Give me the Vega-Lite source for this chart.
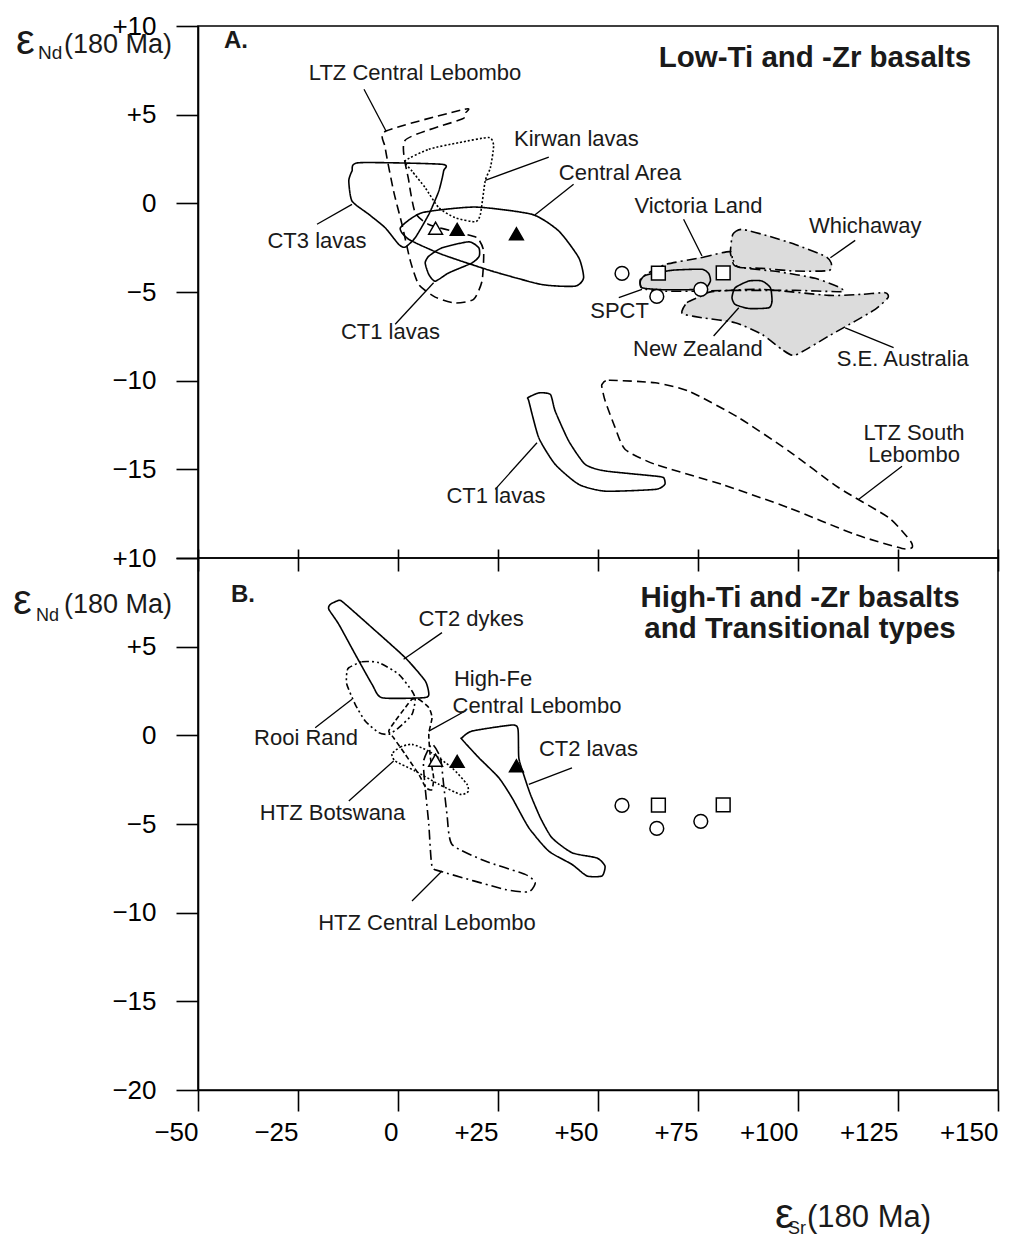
{
"$schema":"https://vega.github.io/schema/vega-lite/v6.json",
"background":"white",
"padding":{"left":12,"top":12,"right":0,"bottom":0},
"spacing":0,
"bounds":"flush",
"config":{"font":"Liberation Sans","view":{"stroke":"black","strokeWidth":1.6},"axis":{"grid":false,"domainColor":"black","tickColor":"black","labelColor":"black","labelFont":"Liberation Sans","labelFontSize":26,"domainWidth":1.6,"tickWidth":1.6}},
"datasets":{
"shapes":[
{"p":"A","n":"LTZ Central Lebombo","i":0,"x":-3,"y":4.08},{"p":"A","n":"LTZ Central Lebombo","i":1,"x":16.7,"y":5.31},{"p":"A","n":"LTZ Central Lebombo","i":2,"x":17,"y":5.12},{"p":"A","n":"LTZ Central Lebombo","i":3,"x":16,"y":4.75},{"p":"A","n":"LTZ Central Lebombo","i":4,"x":1.8,"y":3.56},{"p":"A","n":"LTZ Central Lebombo","i":5,"x":2.7,"y":1.26},{"p":"A","n":"LTZ Central Lebombo","i":6,"x":4.3,"y":-0.53},{"p":"A","n":"LTZ Central Lebombo","i":7,"x":7.7,"y":-1.19},{"p":"A","n":"LTZ Central Lebombo","i":8,"x":15.2,"y":-1.66},{"p":"A","n":"LTZ Central Lebombo","i":9,"x":19.75,"y":-1.94},{"p":"A","n":"LTZ Central Lebombo","i":10,"x":21.4,"y":-2.69},{"p":"A","n":"LTZ Central Lebombo","i":11,"x":21,"y":-4.39},{"p":"A","n":"LTZ Central Lebombo","i":12,"x":18.9,"y":-5.42},{"p":"A","n":"LTZ Central Lebombo","i":13,"x":14.3,"y":-5.62},{"p":"A","n":"LTZ Central Lebombo","i":14,"x":9.3,"y":-5.29},{"p":"A","n":"LTZ Central Lebombo","i":15,"x":5.2,"y":-4.58},{"p":"A","n":"LTZ Central Lebombo","i":16,"x":3.1,"y":-3.26},{"p":"A","n":"LTZ Central Lebombo","i":17,"x":1,"y":-1.19},{"p":"A","n":"LTZ Central Lebombo","i":18,"x":-1.1,"y":0.69},{"p":"A","n":"LTZ Central Lebombo","i":19,"x":-3.2,"y":3.14},
{"p":"A","n":"Kirwan lavas","i":0,"x":1.8,"y":2.39},{"p":"A","n":"Kirwan lavas","i":1,"x":7.7,"y":3.05},{"p":"A","n":"Kirwan lavas","i":2,"x":15.2,"y":3.42},{"p":"A","n":"Kirwan lavas","i":3,"x":22.7,"y":3.71},{"p":"A","n":"Kirwan lavas","i":4,"x":23.9,"y":3.24},{"p":"A","n":"Kirwan lavas","i":5,"x":23.1,"y":2.01},{"p":"A","n":"Kirwan lavas","i":6,"x":21.8,"y":1.26},{"p":"A","n":"Kirwan lavas","i":7,"x":20.6,"y":-0.62},{"p":"A","n":"Kirwan lavas","i":8,"x":19.3,"y":-1.04},{"p":"A","n":"Kirwan lavas","i":9,"x":14.3,"y":-0.81},{"p":"A","n":"Kirwan lavas","i":10,"x":10.2,"y":-0.25},{"p":"A","n":"Kirwan lavas","i":11,"x":6.8,"y":0.88},{"p":"A","n":"Kirwan lavas","i":12,"x":3.5,"y":1.82},
{"p":"A","n":"CT3 lavas","i":0,"x":-9.8,"y":2.29},{"p":"A","n":"CT3 lavas","i":1,"x":11,"y":2.2},{"p":"A","n":"CT3 lavas","i":2,"x":11.4,"y":1.82},{"p":"A","n":"CT3 lavas","i":3,"x":10.2,"y":0.69},{"p":"A","n":"CT3 lavas","i":4,"x":7.7,"y":-0.62},{"p":"A","n":"CT3 lavas","i":5,"x":4.3,"y":-1.94},{"p":"A","n":"CT3 lavas","i":6,"x":1.8,"y":-2.47},{"p":"A","n":"CT3 lavas","i":7,"x":0.2,"y":-2.32},{"p":"A","n":"CT3 lavas","i":8,"x":-3.2,"y":-1.38},{"p":"A","n":"CT3 lavas","i":9,"x":-7.3,"y":-0.62},{"p":"A","n":"CT3 lavas","i":10,"x":-11.5,"y":0.13},{"p":"A","n":"CT3 lavas","i":11,"x":-12.3,"y":1.26},{"p":"A","n":"CT3 lavas","i":12,"x":-11.5,"y":1.82},
{"p":"A","n":"Central Area","i":0,"x":0.6,"y":-1.38},{"p":"A","n":"Central Area","i":1,"x":6,"y":-0.53},{"p":"A","n":"Central Area","i":2,"x":19.3,"y":-0.21},{"p":"A","n":"Central Area","i":3,"x":33.5,"y":-0.62},{"p":"A","n":"Central Area","i":4,"x":40.2,"y":-1.56},{"p":"A","n":"Central Area","i":5,"x":45.2,"y":-3.07},{"p":"A","n":"Central Area","i":6,"x":46.4,"y":-4.2},{"p":"A","n":"Central Area","i":7,"x":44.3,"y":-4.67},{"p":"A","n":"Central Area","i":8,"x":36,"y":-4.58},{"p":"A","n":"Central Area","i":9,"x":23.5,"y":-3.82},{"p":"A","n":"Central Area","i":10,"x":11,"y":-2.88},{"p":"A","n":"Central Area","i":11,"x":2.7,"y":-2.03},
{"p":"A","n":"CT1 lavas small","i":0,"x":7.7,"y":-2.98},{"p":"A","n":"CT1 lavas small","i":1,"x":11,"y":-2.51},{"p":"A","n":"CT1 lavas small","i":2,"x":17.7,"y":-2.17},{"p":"A","n":"CT1 lavas small","i":3,"x":20.2,"y":-2.51},{"p":"A","n":"CT1 lavas small","i":4,"x":20.3,"y":-2.98},{"p":"A","n":"CT1 lavas small","i":5,"x":18.5,"y":-3.36},{"p":"A","n":"CT1 lavas small","i":6,"x":12.7,"y":-3.92},{"p":"A","n":"CT1 lavas small","i":7,"x":9.3,"y":-4.39},{"p":"A","n":"CT1 lavas small","i":8,"x":7.7,"y":-4.01},{"p":"A","n":"CT1 lavas small","i":9,"x":6.8,"y":-3.36},
{"p":"A","n":"Whichaway","i":0,"x":83.1,"y":-2.79},{"p":"A","n":"Whichaway","i":1,"x":83.7,"y":-1.75},{"p":"A","n":"Whichaway","i":2,"x":86,"y":-1.47},{"p":"A","n":"Whichaway","i":3,"x":92.7,"y":-1.85},{"p":"A","n":"Whichaway","i":4,"x":99.3,"y":-2.32},{"p":"A","n":"Whichaway","i":5,"x":106.8,"y":-2.98},{"p":"A","n":"Whichaway","i":6,"x":108.3,"y":-3.36},{"p":"A","n":"Whichaway","i":7,"x":107.7,"y":-3.79},{"p":"A","n":"Whichaway","i":8,"x":99.3,"y":-3.82},{"p":"A","n":"Whichaway","i":9,"x":91,"y":-3.67},{"p":"A","n":"Whichaway","i":10,"x":85.2,"y":-3.6},{"p":"A","n":"Whichaway","i":11,"x":83.9,"y":-3.26},
{"p":"A","n":"Victoria Land","i":0,"x":66.8,"y":-3.45},{"p":"A","n":"Victoria Land","i":1,"x":76,"y":-3.05},{"p":"A","n":"Victoria Land","i":2,"x":83.1,"y":-2.73},{"p":"A","n":"Victoria Land","i":3,"x":84.3,"y":-3.54},{"p":"A","n":"Victoria Land","i":4,"x":95.2,"y":-3.86},{"p":"A","n":"Victoria Land","i":5,"x":104.3,"y":-4.23},{"p":"A","n":"Victoria Land","i":6,"x":110.2,"y":-4.72},{"p":"A","n":"Victoria Land","i":7,"x":111,"y":-4.98},{"p":"A","n":"Victoria Land","i":8,"x":99.3,"y":-4.91},{"p":"A","n":"Victoria Land","i":9,"x":82.7,"y":-4.91},{"p":"A","n":"Victoria Land","i":10,"x":76,"y":-4.95},{"p":"A","n":"Victoria Land","i":11,"x":66,"y":-4.95},{"p":"A","n":"Victoria Land","i":12,"x":61,"y":-4.79},{"p":"A","n":"Victoria Land","i":13,"x":60.6,"y":-4.29},{"p":"A","n":"Victoria Land","i":14,"x":62.7,"y":-3.92},
{"p":"A","n":"S.E. Australia","i":0,"x":71,"y":-6.07},{"p":"A","n":"S.E. Australia","i":1,"x":72.25,"y":-5.6},{"p":"A","n":"S.E. Australia","i":2,"x":76,"y":-5.22},{"p":"A","n":"S.E. Australia","i":3,"x":78.5,"y":-4.98},{"p":"A","n":"S.E. Australia","i":4,"x":91,"y":-4.85},{"p":"A","n":"S.E. Australia","i":5,"x":107.7,"y":-5.19},{"p":"A","n":"S.E. Australia","i":6,"x":116,"y":-5.13},{"p":"A","n":"S.E. Australia","i":7,"x":121.8,"y":-5.04},{"p":"A","n":"S.E. Australia","i":8,"x":122.5,"y":-5.32},{"p":"A","n":"S.E. Australia","i":9,"x":119.3,"y":-5.98},{"p":"A","n":"S.E. Australia","i":10,"x":114.3,"y":-6.64},{"p":"A","n":"S.E. Australia","i":11,"x":107.7,"y":-7.48},{"p":"A","n":"S.E. Australia","i":12,"x":99.3,"y":-8.56},{"p":"A","n":"S.E. Australia","i":13,"x":96,"y":-8.24},{"p":"A","n":"S.E. Australia","i":14,"x":91,"y":-7.39},{"p":"A","n":"S.E. Australia","i":15,"x":84.3,"y":-6.73},{"p":"A","n":"S.E. Australia","i":16,"x":76,"y":-6.45},{"p":"A","n":"S.E. Australia","i":17,"x":71.4,"y":-6.26},
{"p":"A","n":"SPCT","i":0,"x":61,"y":-4.76},{"p":"A","n":"SPCT","i":1,"x":60.6,"y":-4.38},{"p":"A","n":"SPCT","i":2,"x":61.8,"y":-4.06},{"p":"A","n":"SPCT","i":3,"x":66,"y":-3.86},{"p":"A","n":"SPCT","i":4,"x":69.3,"y":-3.76},{"p":"A","n":"SPCT","i":5,"x":76,"y":-3.72},{"p":"A","n":"SPCT","i":6,"x":77.7,"y":-3.97},{"p":"A","n":"SPCT","i":7,"x":78.1,"y":-4.38},{"p":"A","n":"SPCT","i":8,"x":76.8,"y":-4.79},{"p":"A","n":"SPCT","i":9,"x":72.7,"y":-4.87},{"p":"A","n":"SPCT","i":10,"x":66,"y":-4.87},
{"p":"A","n":"New Zealand","i":0,"x":83.5,"y":-5.32},{"p":"A","n":"New Zealand","i":1,"x":84.3,"y":-4.76},{"p":"A","n":"New Zealand","i":2,"x":87.7,"y":-4.38},{"p":"A","n":"New Zealand","i":3,"x":91,"y":-4.38},{"p":"A","n":"New Zealand","i":4,"x":93.1,"y":-4.76},{"p":"A","n":"New Zealand","i":5,"x":93.5,"y":-5.51},{"p":"A","n":"New Zealand","i":6,"x":92.7,"y":-5.89},{"p":"A","n":"New Zealand","i":7,"x":87.7,"y":-5.93},{"p":"A","n":"New Zealand","i":8,"x":84.3,"y":-5.7},
{"p":"A","n":"CT1 lavas curved","i":0,"x":32.7,"y":-11.15},{"p":"A","n":"CT1 lavas curved","i":1,"x":35.2,"y":-13.22},{"p":"A","n":"CT1 lavas curved","i":2,"x":39.3,"y":-14.72},{"p":"A","n":"CT1 lavas curved","i":3,"x":45.2,"y":-15.85},{"p":"A","n":"CT1 lavas curved","i":4,"x":51.8,"y":-16.23},{"p":"A","n":"CT1 lavas curved","i":5,"x":64.3,"y":-16.13},{"p":"A","n":"CT1 lavas curved","i":6,"x":66.7,"y":-15.85},{"p":"A","n":"CT1 lavas curved","i":7,"x":66.4,"y":-15.47},{"p":"A","n":"CT1 lavas curved","i":8,"x":64.3,"y":-15.38},{"p":"A","n":"CT1 lavas curved","i":9,"x":51.8,"y":-15.09},{"p":"A","n":"CT1 lavas curved","i":10,"x":46.8,"y":-14.72},{"p":"A","n":"CT1 lavas curved","i":11,"x":42.7,"y":-13.41},{"p":"A","n":"CT1 lavas curved","i":12,"x":39.3,"y":-11.72},{"p":"A","n":"CT1 lavas curved","i":13,"x":38.1,"y":-10.78},{"p":"A","n":"CT1 lavas curved","i":14,"x":35.2,"y":-10.69},{"p":"A","n":"CT1 lavas curved","i":15,"x":32.5,"y":-10.96},
{"p":"A","n":"LTZ South Lebombo","i":0,"x":51,"y":-10.21},{"p":"A","n":"LTZ South Lebombo","i":1,"x":52.7,"y":-9.98},{"p":"A","n":"LTZ South Lebombo","i":2,"x":64.3,"y":-10.12},{"p":"A","n":"LTZ South Lebombo","i":3,"x":72.7,"y":-10.59},{"p":"A","n":"LTZ South Lebombo","i":4,"x":85.2,"y":-12.09},{"p":"A","n":"LTZ South Lebombo","i":5,"x":97.7,"y":-13.97},{"p":"A","n":"LTZ South Lebombo","i":6,"x":110.2,"y":-16.04},{"p":"A","n":"LTZ South Lebombo","i":7,"x":122.7,"y":-17.73},{"p":"A","n":"LTZ South Lebombo","i":8,"x":128.1,"y":-19.04},{"p":"A","n":"LTZ South Lebombo","i":9,"x":128.5,"y":-19.42},{"p":"A","n":"LTZ South Lebombo","i":10,"x":126,"y":-19.46},{"p":"A","n":"LTZ South Lebombo","i":11,"x":114.3,"y":-18.67},{"p":"A","n":"LTZ South Lebombo","i":12,"x":97.7,"y":-17.17},{"p":"A","n":"LTZ South Lebombo","i":13,"x":81,"y":-15.85},{"p":"A","n":"LTZ South Lebombo","i":14,"x":64.3,"y":-14.72},{"p":"A","n":"LTZ South Lebombo","i":15,"x":56.8,"y":-13.88},{"p":"A","n":"LTZ South Lebombo","i":16,"x":54.3,"y":-12.66},{"p":"A","n":"LTZ South Lebombo","i":17,"x":51.8,"y":-11.15},{"p":"A","n":"LTZ South Lebombo","i":18,"x":51,"y":-10.4},
{"p":"B","n":"CT2 dykes","i":0,"x":-16.9,"y":7.39},{"p":"B","n":"CT2 dykes","i":1,"x":-14.8,"y":7.61},{"p":"B","n":"CT2 dykes","i":2,"x":-13.6,"y":7.48},{"p":"B","n":"CT2 dykes","i":3,"x":-6.5,"y":6.07},{"p":"B","n":"CT2 dykes","i":4,"x":1.8,"y":4.38},{"p":"B","n":"CT2 dykes","i":5,"x":6.8,"y":3.07},{"p":"B","n":"CT2 dykes","i":6,"x":7.7,"y":2.31},{"p":"B","n":"CT2 dykes","i":7,"x":6.4,"y":2.12},{"p":"B","n":"CT2 dykes","i":8,"x":-4,"y":2.12},{"p":"B","n":"CT2 dykes","i":9,"x":-6.5,"y":2.88},{"p":"B","n":"CT2 dykes","i":10,"x":-10.7,"y":4.57},{"p":"B","n":"CT2 dykes","i":11,"x":-14.8,"y":6.26},{"p":"B","n":"CT2 dykes","i":12,"x":-17.3,"y":7.11},
{"p":"B","n":"Rooi Rand","i":0,"x":-12.3,"y":3.81},{"p":"B","n":"Rooi Rand","i":1,"x":-9,"y":4.15},{"p":"B","n":"Rooi Rand","i":2,"x":-4.8,"y":4.1},{"p":"B","n":"Rooi Rand","i":3,"x":0.2,"y":3.44},{"p":"B","n":"Rooi Rand","i":4,"x":3.5,"y":2.5},{"p":"B","n":"Rooi Rand","i":5,"x":4.3,"y":2.03},{"p":"B","n":"Rooi Rand","i":6,"x":3.5,"y":1.18},{"p":"B","n":"Rooi Rand","i":7,"x":0.2,"y":0.43},{"p":"B","n":"Rooi Rand","i":8,"x":-2.3,"y":0.06},{"p":"B","n":"Rooi Rand","i":9,"x":-4.8,"y":0.15},{"p":"B","n":"Rooi Rand","i":10,"x":-8.2,"y":0.81},{"p":"B","n":"Rooi Rand","i":11,"x":-10.7,"y":1.75},{"p":"B","n":"Rooi Rand","i":12,"x":-12.8,"y":2.88},{"p":"B","n":"Rooi Rand","i":13,"x":-12.8,"y":3.53},
{"p":"B","n":"High-Fe Central Lebombo","i":0,"x":3.5,"y":2.03},{"p":"B","n":"High-Fe Central Lebombo","i":1,"x":5.2,"y":2.03},{"p":"B","n":"High-Fe Central Lebombo","i":2,"x":7.7,"y":1.56},{"p":"B","n":"High-Fe Central Lebombo","i":3,"x":8.5,"y":0.99},{"p":"B","n":"High-Fe Central Lebombo","i":4,"x":7.7,"y":0.06},{"p":"B","n":"High-Fe Central Lebombo","i":5,"x":8.1,"y":-1.26},{"p":"B","n":"High-Fe Central Lebombo","i":6,"x":8.9,"y":-2.39},{"p":"B","n":"High-Fe Central Lebombo","i":7,"x":8.5,"y":-3.05},{"p":"B","n":"High-Fe Central Lebombo","i":8,"x":7,"y":-2.96},{"p":"B","n":"High-Fe Central Lebombo","i":9,"x":5.2,"y":-2.2},{"p":"B","n":"High-Fe Central Lebombo","i":10,"x":1.8,"y":-1.07},{"p":"B","n":"High-Fe Central Lebombo","i":11,"x":-1.1,"y":-0.14},{"p":"B","n":"High-Fe Central Lebombo","i":12,"x":-2.3,"y":0.24},{"p":"B","n":"High-Fe Central Lebombo","i":13,"x":-0.7,"y":0.81},{"p":"B","n":"High-Fe Central Lebombo","i":14,"x":1.8,"y":1.56},
{"p":"B","n":"HTZ Botswana","i":0,"x":-1.5,"y":-1.04},{"p":"B","n":"HTZ Botswana","i":1,"x":0.6,"y":-0.66},{"p":"B","n":"HTZ Botswana","i":2,"x":3.5,"y":-0.51},{"p":"B","n":"HTZ Botswana","i":3,"x":7.7,"y":-0.89},{"p":"B","n":"HTZ Botswana","i":4,"x":13.5,"y":-1.83},{"p":"B","n":"HTZ Botswana","i":5,"x":17.25,"y":-2.76},{"p":"B","n":"HTZ Botswana","i":6,"x":17.5,"y":-3.18},{"p":"B","n":"HTZ Botswana","i":7,"x":15.6,"y":-3.33},{"p":"B","n":"HTZ Botswana","i":8,"x":10.2,"y":-2.76},{"p":"B","n":"HTZ Botswana","i":9,"x":4.3,"y":-2.01},{"p":"B","n":"HTZ Botswana","i":10,"x":-0.7,"y":-1.45},
{"p":"B","n":"HTZ Central Lebombo","i":0,"x":8.5,"y":-0.5},{"p":"B","n":"HTZ Central Lebombo","i":1,"x":10.6,"y":-1.26},{"p":"B","n":"HTZ Central Lebombo","i":2,"x":11.4,"y":-2.76},{"p":"B","n":"HTZ Central Lebombo","i":3,"x":12.25,"y":-4.46},{"p":"B","n":"HTZ Central Lebombo","i":4,"x":13.5,"y":-6.15},{"p":"B","n":"HTZ Central Lebombo","i":5,"x":21.8,"y":-7.09},{"p":"B","n":"HTZ Central Lebombo","i":6,"x":31.8,"y":-7.84},{"p":"B","n":"HTZ Central Lebombo","i":7,"x":34.3,"y":-8.31},{"p":"B","n":"HTZ Central Lebombo","i":8,"x":32.7,"y":-8.82},{"p":"B","n":"HTZ Central Lebombo","i":9,"x":26.8,"y":-8.69},{"p":"B","n":"HTZ Central Lebombo","i":10,"x":11,"y":-7.69},{"p":"B","n":"HTZ Central Lebombo","i":11,"x":8.5,"y":-7.37},{"p":"B","n":"HTZ Central Lebombo","i":12,"x":7.7,"y":-5.02},{"p":"B","n":"HTZ Central Lebombo","i":13,"x":6.8,"y":-2.96},{"p":"B","n":"HTZ Central Lebombo","i":14,"x":6.4,"y":-1.45},
{"p":"B","n":"CT2 lavas","i":0,"x":16,"y":-0.14},{"p":"B","n":"CT2 lavas","i":1,"x":18.5,"y":0.24},{"p":"B","n":"CT2 lavas","i":2,"x":28.5,"y":0.58},{"p":"B","n":"CT2 lavas","i":3,"x":30,"y":0.34},{"p":"B","n":"CT2 lavas","i":4,"x":30.2,"y":-1.26},{"p":"B","n":"CT2 lavas","i":5,"x":31.4,"y":-2.2},{"p":"B","n":"CT2 lavas","i":6,"x":33.1,"y":-3.33},{"p":"B","n":"CT2 lavas","i":7,"x":35.6,"y":-4.65},{"p":"B","n":"CT2 lavas","i":8,"x":38.5,"y":-5.78},{"p":"B","n":"CT2 lavas","i":9,"x":43.5,"y":-6.62},{"p":"B","n":"CT2 lavas","i":10,"x":49.75,"y":-6.92},{"p":"B","n":"CT2 lavas","i":11,"x":51.75,"y":-7.37},{"p":"B","n":"CT2 lavas","i":12,"x":51,"y":-7.93},{"p":"B","n":"CT2 lavas","i":13,"x":47.25,"y":-7.93},{"p":"B","n":"CT2 lavas","i":14,"x":43.5,"y":-7.28},{"p":"B","n":"CT2 lavas","i":15,"x":37.7,"y":-6.53},{"p":"B","n":"CT2 lavas","i":16,"x":32.7,"y":-5.21},{"p":"B","n":"CT2 lavas","i":17,"x":28.5,"y":-3.52},{"p":"B","n":"CT2 lavas","i":18,"x":25.2,"y":-2.39},{"p":"B","n":"CT2 lavas","i":19,"x":20.2,"y":-1.26},{"p":"B","n":"CT2 lavas","i":20,"x":16,"y":-0.23}
],
"pts":[
{"k":"open triangle","x":9.4,"y":-1.4},{"k":"filled triangle","x":14.8,"y":-1.47},{"k":"filled triangle","x":29.6,"y":-1.72},
{"k":"circle","x":56,"y":-3.95},{"k":"square","x":65.1,"y":-3.93},{"k":"circle","x":64.7,"y":-5.25},{"k":"circle","x":75.7,"y":-4.85},{"k":"square","x":81.3,"y":-3.92}
],
"labels":[
{"p":"A","t":"LTZ Central Lebombo","x":4.25,"y":7.35},{"p":"A","t":"Kirwan lavas","x":44.6,"y":3.63},{"p":"A","t":"Central Area","x":55.5,"y":1.73},{"p":"A","t":"CT3 lavas","x":-20.25,"y":-2.13},{"p":"A","t":"CT1 lavas","x":-1.9,"y":-7.26},{"p":"A","t":"Victoria Land","x":75.1,"y":-0.15},{"p":"A","t":"Whichaway","x":116.8,"y":-1.28},{"p":"A","t":"SPCT","x":55.4,"y":-6.08},{"p":"A","t":"New Zealand","x":74.95,"y":-8.23},{"p":"A","t":"S.E. Australia","x":126.2,"y":-8.8},{"p":"A","t":"CT1 lavas","x":24.5,"y":-16.51},{"p":"A","t":"LTZ South","x":129,"y":-12.96},{"p":"A","t":"Lebombo","x":129,"y":-14.2},
{"p":"B","t":"CT2 dykes","x":18.3,"y":6.54},{"p":"B","t":"High-Fe","x":23.75,"y":3.16},{"p":"B","t":"Central Lebombo","x":34.75,"y":1.65},{"p":"B","t":"Rooi Rand","x":-23,"y":-0.14},{"p":"B","t":"HTZ Botswana","x":-16.35,"y":-4.37},{"p":"B","t":"HTZ Central Lebombo","x":7.25,"y":-10.59},{"p":"B","t":"CT2 lavas","x":47.6,"y":-0.77}
],
"heads":[
{"p":"A","t":"Low-Ti and -Zr basalts","x":104.25,"y":8.2},{"p":"B","t":"High-Ti and -Zr basalts","x":100.5,"y":7.76},{"p":"B","t":"and Transitional types","x":100.5,"y":6.0}
],
"letters":[{"p":"A","t":"A.","x":-40.5,"y":9.15},{"p":"B","t":"B.","x":-38.75,"y":7.91}],
"leaders":[
{"p":"A","x":-8.5,"y":6.43,"x2":-3,"y2":4.08},{"p":"A","x":21.8,"y":1.3,"x2":37.7,"y2":2.61},{"p":"A","x":34.2,"y":-0.66,"x2":43.9,"y2":1.07},{"p":"A","x":-20.25,"y":-1.18,"x2":-11.5,"y2":-0.06},{"p":"A","x":8.9,"y":-4.48,"x2":-0.7,"y2":-6.82},{"p":"A","x":71.4,"y":-0.9,"x2":76,"y2":-2.97},{"p":"A","x":114.3,"y":-2.09,"x2":108.1,"y2":-3.07},{"p":"A","x":55.2,"y":-5.32,"x2":61,"y2":-4.85},{"p":"A","x":78.9,"y":-7.48,"x2":85.2,"y2":-5.89},{"p":"A","x":123.9,"y":-8.14,"x2":111.8,"y2":-7.02},{"p":"A","x":24.3,"y":-16.13,"x2":34.75,"y2":-13.5},{"p":"A","x":126,"y":-14.82,"x2":115.2,"y2":-16.69},
{"p":"B","x":1.4,"y":4.29,"x2":11,"y2":5.79},{"p":"B","x":7.7,"y":0.24,"x2":16.8,"y2":1.37},{"p":"B","x":-11.5,"y":2.03,"x2":-20.7,"y2":0.43},{"p":"B","x":-1.1,"y":-1.45,"x2":-12.3,"y2":-3.7},{"p":"B","x":11,"y":-7.65,"x2":3.5,"y2":-9.34},{"p":"B","x":32.7,"y":-2.76,"x2":43.5,"y2":-1.83}
],
"eps":[{"p":"A","t":"ε","x":-95.5,"y":8.42},{"p":"B","t":"ε","x":-96.25,"y":6.84},{"p":"B","t":"ε","x":94.25,"y":-27.79}],
"subs":[{"p":"A","t":"Nd","x":-90,"y":8.14},{"p":"B","t":"Nd","x":-90.5,"y":6.45},{"p":"B","t":"Sr","x":97.5,"y":-28.1}],
"units":[{"p":"A","t":"(180 Ma)","x":-83.5,"y":8.45},{"p":"B","t":"(180 Ma)","x":-83.5,"y":6.9}],
"xunit":[{"t":"(180 Ma)","x":102.25,"y":-27.73}]
},
"vconcat":[
{
"width":800,"height":532,
"encoding":{
"x":{"field":"x","type":"quantitative","scale":{"domain":[-50,150],"nice":false,"zero":false},"axis":{"orient":"bottom","values":[-50,-25,0,25,50,75,100,125,150],"labels":false,"domain":false,"tickSize":22,"offset":-9,"title":null}},
"y":{"field":"y","type":"quantitative","scale":{"domain":[-20,10],"nice":false,"zero":false},"axis":{"values":[10,5,0,-5,-10,-15,-20],"tickSize":22,"labelPadding":20,"labelFlush":false,"labelOverlap":false,"title":null,"labelExpr":"datum.value == -20 ? '' : (datum.value > 0 ? '+' + datum.value : (datum.value < 0 ? '−' + (-datum.value) : '0'))"}}
},
"layer":[
{"data":{"name":"shapes"},"transform":[{"filter":"datum.p == 'A'"},{"filter":{"field":"n","oneOf":["Whichaway","Victoria Land","S.E. Australia","SPCT"]}}],"mark":{"type":"line","interpolate":"cardinal-closed","tension":0.4,"fill":"#dcdcdc","stroke":"#dcdcdc","strokeWidth":0.5},"encoding":{"order":{"field":"i","type":"quantitative"},"detail":{"field":"n","type":"nominal"}}},
{"data":{"name":"shapes"},"transform":[{"filter":"datum.p == 'A'"}],"mark":{"type":"line","interpolate":"cardinal-closed","tension":0.4,"color":"black","strokeWidth":1.6},"encoding":{"order":{"field":"i","type":"quantitative"},"detail":{"field":"n","type":"nominal"},"strokeDash":{"field":"n","type":"nominal","legend":null,"scale":{"domain":["LTZ Central Lebombo","Kirwan lavas","CT3 lavas","Central Area","CT1 lavas small","Whichaway","Victoria Land","S.E. Australia","SPCT","New Zealand","CT1 lavas curved","LTZ South Lebombo","CT2 dykes","Rooi Rand","High-Fe Central Lebombo","HTZ Botswana","HTZ Central Lebombo","CT2 lavas"],"range":[[9,5],[2,2],[1,0],[1,0],[1,0],[10,4,2,4],[10,4,2,4],[10,4,2,4],[1,0],[1,0],[1,0],[9,5],[1,0],[7,3,2,3,2,3],[5,3],[2,2],[10,4,2,4],[1,0]]}}}},
{"data":{"name":"leaders"},"transform":[{"filter":"datum.p == 'A'"}],"mark":{"type":"rule","color":"black","strokeWidth":1.3},"encoding":{"x2":{"field":"x2"},"y2":{"field":"y2"}}},
{"data":{"name":"pts"},"mark":{"type":"point","filled":true,"stroke":"black","strokeWidth":1.5,"size":190,"opacity":1},"encoding":{"shape":{"field":"k","type":"nominal","legend":null,"scale":{"domain":["circle","square","open triangle","filled triangle"],"range":["circle","square","triangle-up","triangle-up"]}},"fill":{"field":"k","type":"nominal","legend":null,"scale":{"domain":["circle","square","open triangle","filled triangle"],"range":["white","white","white","black"]}}}},
{"data":{"name":"labels"},"transform":[{"filter":"datum.p == 'A'"}],"mark":{"type":"text","fontSize":22,"align":"center","baseline":"middle","color":"#1a1a1a"},"encoding":{"text":{"field":"t"}}},
{"data":{"name":"heads"},"transform":[{"filter":"datum.p == 'A'"}],"mark":{"type":"text","fontSize":29.5,"fontWeight":"bold","align":"center","baseline":"middle","color":"#1a1a1a"},"encoding":{"text":{"field":"t"}}},
{"data":{"name":"letters"},"transform":[{"filter":"datum.p == 'A'"}],"mark":{"type":"text","fontSize":24,"fontWeight":"bold","align":"center","baseline":"middle","color":"#1a1a1a"},"encoding":{"text":{"field":"t"}}},
{"data":{"name":"eps"},"transform":[{"filter":"datum.p == 'A'"}],"mark":{"type":"text","fontSize":42,"align":"left","baseline":"alphabetic","color":"#1a1a1a"},"encoding":{"text":{"field":"t"}}},
{"data":{"name":"subs"},"transform":[{"filter":"datum.p == 'A'"}],"mark":{"type":"text","fontSize":19,"align":"left","baseline":"alphabetic","color":"#1a1a1a"},"encoding":{"text":{"field":"t"}}},
{"data":{"name":"units"},"transform":[{"filter":"datum.p == 'A'"}],"mark":{"type":"text","fontSize":27,"align":"left","baseline":"alphabetic","color":"#1a1a1a"},"encoding":{"text":{"field":"t"}}}
]
},
{
"width":800,"height":532,
"encoding":{
"x":{"field":"x","type":"quantitative","scale":{"domain":[-50,150],"nice":false,"zero":false},"axis":{"orient":"bottom","values":[-50,-25,0,25,50,75,100,125,150],"tickSize":21,"labelPadding":8,"labelAlign":"right","labelDx":13,"labelBaseline":"top","labelFlush":false,"labelOverlap":false,"title":null,"labelExpr":"datum.value > 0 ? '+' + datum.value : (datum.value < 0 ? '−' + (-datum.value) : '0')"}},
"y":{"field":"y","type":"quantitative","scale":{"domain":[-20,10],"nice":false,"zero":false},"axis":{"values":[10,5,0,-5,-10,-15,-20],"tickSize":22,"labelPadding":20,"labelFlush":false,"labelOverlap":false,"title":null,"labelExpr":"datum.value > 0 ? '+' + datum.value : (datum.value < 0 ? '−' + (-datum.value) : '0')"}}
},
"layer":[
{"data":{"name":"shapes"},"transform":[{"filter":"datum.p == 'B'"}],"mark":{"type":"line","interpolate":"cardinal-closed","tension":0.4,"color":"black","strokeWidth":1.6},"encoding":{"order":{"field":"i","type":"quantitative"},"detail":{"field":"n","type":"nominal"},"strokeDash":{"field":"n","type":"nominal","legend":null,"scale":{"domain":["LTZ Central Lebombo","Kirwan lavas","CT3 lavas","Central Area","CT1 lavas small","Whichaway","Victoria Land","S.E. Australia","SPCT","New Zealand","CT1 lavas curved","LTZ South Lebombo","CT2 dykes","Rooi Rand","High-Fe Central Lebombo","HTZ Botswana","HTZ Central Lebombo","CT2 lavas"],"range":[[9,5],[2,2],[1,0],[1,0],[1,0],[10,4,2,4],[10,4,2,4],[10,4,2,4],[1,0],[1,0],[1,0],[9,5],[1,0],[7,3,2,3,2,3],[5,3],[2,2],[10,4,2,4],[1,0]]}}}},
{"data":{"name":"leaders"},"transform":[{"filter":"datum.p == 'B'"}],"mark":{"type":"rule","color":"black","strokeWidth":1.3},"encoding":{"x2":{"field":"x2"},"y2":{"field":"y2"}}},
{"data":{"name":"pts"},"mark":{"type":"point","filled":true,"stroke":"black","strokeWidth":1.5,"size":190,"opacity":1},"encoding":{"shape":{"field":"k","type":"nominal","legend":null,"scale":{"domain":["circle","square","open triangle","filled triangle"],"range":["circle","square","triangle-up","triangle-up"]}},"fill":{"field":"k","type":"nominal","legend":null,"scale":{"domain":["circle","square","open triangle","filled triangle"],"range":["white","white","white","black"]}}}},
{"data":{"name":"labels"},"transform":[{"filter":"datum.p == 'B'"}],"mark":{"type":"text","fontSize":22,"align":"center","baseline":"middle","color":"#1a1a1a"},"encoding":{"text":{"field":"t"}}},
{"data":{"name":"heads"},"transform":[{"filter":"datum.p == 'B'"}],"mark":{"type":"text","fontSize":29.5,"fontWeight":"bold","align":"center","baseline":"middle","color":"#1a1a1a"},"encoding":{"text":{"field":"t"}}},
{"data":{"name":"letters"},"transform":[{"filter":"datum.p == 'B'"}],"mark":{"type":"text","fontSize":24,"fontWeight":"bold","align":"center","baseline":"middle","color":"#1a1a1a"},"encoding":{"text":{"field":"t"}}},
{"data":{"name":"eps"},"transform":[{"filter":"datum.p == 'B'"}],"mark":{"type":"text","fontSize":42,"align":"left","baseline":"alphabetic","color":"#1a1a1a"},"encoding":{"text":{"field":"t"}}},
{"data":{"name":"subs"},"transform":[{"filter":"datum.p == 'B'"}],"mark":{"type":"text","fontSize":18,"align":"left","baseline":"alphabetic","color":"#1a1a1a"},"encoding":{"text":{"field":"t"}}},
{"data":{"name":"units"},"transform":[{"filter":"datum.p == 'B'"}],"mark":{"type":"text","fontSize":27,"align":"left","baseline":"alphabetic","color":"#1a1a1a"},"encoding":{"text":{"field":"t"}}},
{"data":{"name":"xunit"},"mark":{"type":"text","fontSize":31,"align":"left","baseline":"alphabetic","color":"#1a1a1a"},"encoding":{"text":{"field":"t"}}}
]
}
]
}
